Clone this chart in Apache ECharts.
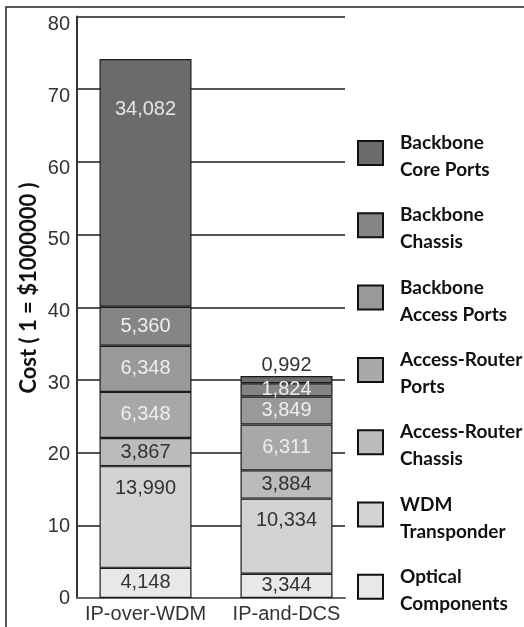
<!DOCTYPE html>
<html>
<head>
<meta charset="utf-8">
<script src="https://cdn.jsdelivr.net/npm/echarts@6/dist/echarts.min.js"></script>
<style>
html,body{margin:0;padding:0;background:#fff;}
#chart{width:524px;height:627px;}
</style>
</head>
<body>
<div id="chart"></div>
<script>
// ---- data ----
const categories = ['IP-over-WDM', 'IP-and-DCS'];
const opticalComponents   = [4.148, 3.344];
const wdmTransponder      = [13.990, 10.334];
const accessRouterChassis = [3.867, 3.884];
const accessRouterPorts   = [6.348, 6.311];
const backboneAccessPorts = [6.348, 3.849];
const backboneChassis     = [5.360, 1.824];
const backboneCorePorts   = [34.082, 0.992];
const yMin = 0, yMax = 80, yStep = 10;
const yAxisTitle = 'Cost ( 1 = $1000000 )';

// ---- styling ----
const seriesDefs = [
  {name: 'Optical\nComponents',    key: 'Optical Components',    data: opticalComponents,   color: '#e8e8e8', label: '#333'},
  {name: 'WDM\nTransponder',       key: 'WDM Transponder',       data: wdmTransponder,      color: '#d3d3d3', label: '#333'},
  {name: 'Access-Router\nChassis', key: 'Access-Router Chassis', data: accessRouterChassis, color: '#bbbbbb', label: '#333'},
  {name: 'Access-Router\nPorts',   key: 'Access-Router Ports',   data: accessRouterPorts,   color: '#a8a8a8', label: '#eeeeee'},
  {name: 'Backbone\nAccess Ports', key: 'Backbone Access Ports', data: backboneAccessPorts, color: '#999999', label: '#eeeeee'},
  {name: 'Backbone\nChassis',      key: 'Backbone Chassis',      data: backboneChassis,     color: '#858585', label: '#eeeeee'},
  {name: 'Backbone\nCore Ports',   key: 'Backbone Core Ports',   data: backboneCorePorts,   color: '#6b6b6b', label: '#e6e6e6'}
];
const labelOverrides = {
  'WDM Transponder': [{position: 'insideTop', distance: 12}, {position: 'insideTop', distance: 12}],
  'Backbone Core Ports': [{position: 'insideTop', distance: 40}, {position: 'top', distance: 1, color: '#333'}]
};
const fmt = v => v.toFixed(3).replace('.', ',');

const series = seriesDefs.map(s => ({
  name: s.name,
  type: 'bar',
  stack: 'total',
  xAxisIndex: 0,
  yAxisIndex: 0,
  barWidth: 92,
  itemStyle: {color: s.color, borderColor: '#1a1a1a', borderWidth: 1.2},
  label: {
    show: true,
    position: 'inside',
    color: s.label,
    fontFamily: 'Liberation Sans, Arial, sans-serif',
    fontSize: 20,
    formatter: p => fmt(p.value)
  },
  emphasis: {disabled: true},
  data: s.data.map((v, i) => {
    const o = labelOverrides[s.key] && labelOverrides[s.key][i];
    return o ? {value: v, label: o} : v;
  })
}));

const chart = echarts.init(document.getElementById('chart'), null, {renderer: 'canvas'});
const gridTop = 16.5, gridBottomY = 598, labelTop = 24.7;
chart.setOption({
  animation: false,
  backgroundColor: '#fff',
  grid: [
    {left: 75, top: gridTop, width: 282, height: gridBottomY - gridTop},
    {left: 77, top: gridTop, width: 268, height: gridBottomY - gridTop},
    {left: 77, top: labelTop, width: 268, height: gridBottomY - labelTop}
  ],
  xAxis: [
    {gridIndex: 0, type: 'category', data: categories,
     axisLine: {show: false}, axisTick: {show: false},
     axisLabel: {interval: 0, hideOverlap: false, color: '#333', fontSize: 20, fontFamily: 'Liberation Sans, Arial, sans-serif', margin: 6}},
    {gridIndex: 1, type: 'category', data: categories,
     axisLine: {show: true, lineStyle: {color: '#666', width: 2}}, axisTick: {show: false}, axisLabel: {show: false}},
    {gridIndex: 2, type: 'category', data: categories, show: false}
  ],
  yAxis: [
    {gridIndex: 0, type: 'value', min: yMin, max: yMax, interval: yStep, show: false},
    {gridIndex: 1, type: 'value', min: yMin, max: yMax, interval: yStep,
     axisLine: {show: true, lineStyle: {color: '#333', width: 2}}, axisTick: {show: false}, axisLabel: {show: false},
     splitLine: {show: true, lineStyle: {color: '#555', width: 2}}},
    {gridIndex: 2, type: 'value', min: yMin, max: yMax, interval: yStep,
     axisLine: {show: false}, axisTick: {show: false}, splitLine: {show: false},
     axisLabel: {color: '#333', fontSize: 20, fontFamily: 'Liberation Sans, Arial, sans-serif', margin: 7}}
  ],
  legend: {
    orient: 'vertical',
    left: 352,
    top: 117.5,
    icon: 'rect',
    itemWidth: 25,
    itemHeight: 24,
    itemGap: 11.3,
    selectedMode: false,
    data: seriesDefs.slice().reverse().map(s => s.name),
    itemStyle: {borderColor: '#111', borderWidth: 2},
    formatter: name => '{s| }\n' + name,
    textStyle: {
      color: '#111',
      fontFamily: 'Lato, sans-serif',
      fontWeight: 'bold',
      fontSize: 19,
      lineHeight: 27,
      padding: [0, 0, 0, 12],
      rich: {s: {fontSize: 4, lineHeight: 7}}
    }
  },
  graphic: [
    {type: 'rect', shape: {x: 6, y: 7, width: 700, height: 800}, style: {fill: 'none', stroke: '#222', lineWidth: 1.5}, silent: true},
    {type: 'text', x: 29, y: 288, rotation: Math.PI / 2,
     style: {text: yAxisTitle, fill: '#111', font: 'bold 22px Lato, sans-serif', align: 'center', verticalAlign: 'middle'}}
  ],
  series: series
});
</script>
</body>
</html>
